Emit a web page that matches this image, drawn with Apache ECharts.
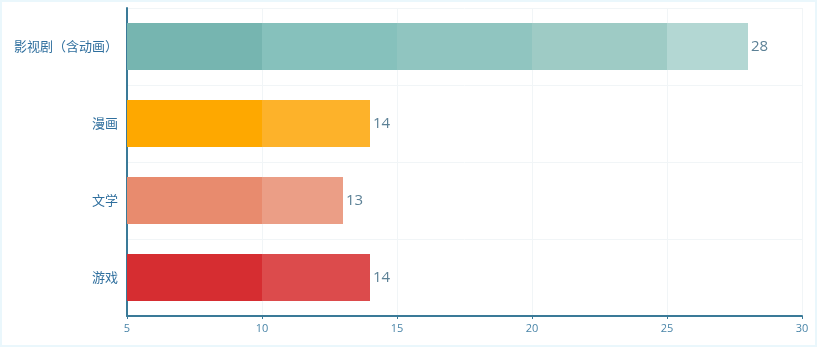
<!DOCTYPE html>
<html><head><meta charset="utf-8">
<script src="https://cdn.jsdelivr.net/npm/echarts@6/dist/echarts.min.js"></script>
<style>html,body{margin:0;padding:0;background:#fff;}#c{width:817px;height:347px;box-sizing:border-box;border:2px solid #eaf7fc;}</style>
</head><body><div id="c"></div>
<script>
const categories = ['游戏', '文学', '漫画', '影视剧（含动画）'];
const values = [14, 13, 14, 28];
const xTicks = [5, 10, 15, 20, 25, 30];
// band colours (per 5-unit band, from axis min) for each category
const bandColors = [
  ['#d62d31', '#dc4b4c'],
  ['#e88b6e', '#eb9e86'],
  ['#fea800', '#fdb22a'],
  ['#76b5b0', '#86c1bc', '#90c5c0', '#9ecbc5', '#b3d7d3']
];
const xMin = xTicks[0], xMax = xTicks[xTicks.length - 1], step = xTicks[1] - xTicks[0];

function makeGradient(v, cols) {
  const stops = [];
  const len = v - xMin;
  let k = 0;
  stops.push({offset: 0, color: cols[0]});
  for (let b = xMin + step; b < v; b += step) {
    const f = (b - xMin) / len;
    stops.push({offset: f, color: cols[Math.min(k, cols.length - 1)]});
    k++;
    stops.push({offset: f, color: cols[Math.min(k, cols.length - 1)]});
  }
  stops.push({offset: 1, color: cols[Math.min(k, cols.length - 1)]});
  return new echarts.graphic.LinearGradient(0, 0, 1, 0, stops);
}

const chart = echarts.init(document.getElementById('c'), null, {renderer: 'canvas'});
chart.setOption({
  animation: false,
  grid: {left: 125, right: 13, top: 6, bottom: 29, containLabel: false},
  xAxis: {
    type: 'value', min: xMin, max: xMax, interval: step,
    axisLine: {show: true, lineStyle: {color: '#3a7a98', width: 2}},
    axisTick: {show: true, length: 3, lineStyle: {color: '#3a7a98'}},
    axisLabel: {color: '#4a85a8', fontSize: 11, margin: 7, fontFamily: 'Open Sans'},
    splitLine: {show: true, lineStyle: {color: '#f1f5f7', width: 1}}
  },
  yAxis: {
    type: 'category', data: categories,
    axisLine: {show: true, lineStyle: {color: '#3a7a98', width: 2}},
    axisTick: {show: false},
    axisLabel: {color: '#2f6f9e', fontSize: 13, margin: 9, fontFamily: 'Noto Sans CJK SC'},
    splitLine: {show: true, lineStyle: {color: '#f1f5f7', width: 1}}
  },
  series: [{
    type: 'bar',
    barWidth: '61%',
    data: values.map((v, i) => ({value: v, itemStyle: {color: makeGradient(v, bandColors[i])}})),
    label: {show: true, position: 'right', distance: 3, color: '#5c8196', fontSize: 15, fontFamily: 'Open Sans'}
  }]
});
</script></body></html>
